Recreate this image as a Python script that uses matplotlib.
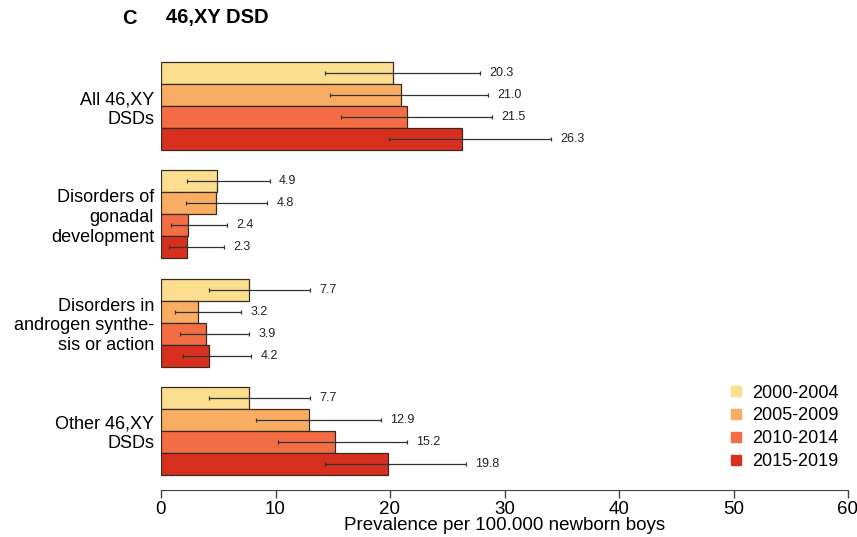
#!/usr/bin/env python3
# 46,XY DSD prevalence by period: horizontal grouped bars with CIs

import matplotlib
matplotlib.use("Agg")
import matplotlib.pyplot as plt
from matplotlib.lines import Line2D

plt.rcParams["font.family"] = ["Liberation Sans", "DejaVu Sans"]

groups = ["All 46,XY\nDSDs", "Disorders of\ngonadal\ndevelopment",
          "Disorders in\nandrogen synthe-\nsis or action", "Other 46,XY\nDSDs"]
periods = ["2000-2004", "2005-2009", "2010-2014", "2015-2019"]
colors = ["#fbdf8e", "#f9ad62", "#f26d43", "#d7301f"]

values = [
    [20.3, 21.0, 21.5, 26.3],
    [4.9, 4.8, 2.4, 2.3],
    [7.7, 3.2, 3.9, 4.2],
    [7.7, 12.9, 15.2, 19.8],
]
ci_low = [
    [14.3, 14.8, 15.7, 19.9],
    [2.3, 2.2, 0.85, 0.7],
    [4.2, 1.2, 1.7, 1.9],
    [4.2, 8.3, 10.2, 14.3],
]
ci_high = [
    [27.9, 28.6, 28.9, 34.1],
    [9.5, 9.3, 5.8, 5.5],
    [13.0, 7.0, 7.7, 7.9],
    [13.0, 19.2, 21.5, 26.6],
]

group_step = 4.92

fig = plt.figure(figsize=(8.57, 5.37), dpi=100)
ax = fig.add_axes([161 / 857, 0.0875, (848 - 161) / 857, 0.8175])

centers = []
for g in range(len(groups)):
    base = g * group_step
    centers.append(base + 2)
    for i in range(len(periods)):
        y = base + i + 0.5
        v = values[g][i]
        ax.barh(y, v, height=1.0, color=colors[i], edgecolor="#3a2a20", linewidth=0.9, zorder=2)
        ax.errorbar(v, y, xerr=[[v - ci_low[g][i]], [ci_high[g][i] - v]], fmt="none",
                    ecolor="#333333", elinewidth=0.9, capsize=1.5, capthick=0.9, zorder=3)
        ax.text(ci_high[g][i] + 0.8, y, f"{v:.1f}", va="center", ha="left", fontsize=9, color="#222222")

ax.set_ylim(19.45, -0.5)
ax.set_xlim(0, 60)
ax.set_yticks(centers)
ax.set_yticklabels(groups, fontsize=13, ha="right", multialignment="right", linespacing=1.2)
ax.tick_params(axis="y", length=0, pad=5)
ax.set_xticks(range(0, 61, 10))
ax.tick_params(axis="x", labelsize=13.5, length=6, width=1, color="#444444", pad=2)
for side in ["left", "right", "top"]:
    ax.spines[side].set_visible(False)
ax.spines["bottom"].set_color("#444444")
ax.set_xlabel("Prevalence per 100.000 newborn boys", fontsize=13.5, labelpad=-1)

handles = [Line2D([], [], marker="s", linestyle="none", markersize=7, color=c, label=p)
           for c, p in zip(colors, periods)]
ax.legend(handles=handles, loc="lower right", bbox_to_anchor=(1.0, 0.025), frameon=False,
          fontsize=13, handlelength=0.8, handletextpad=0.5, labelspacing=0.32, borderpad=0)

fig.text(122 / 857, 1 - 18 / 537, "C", fontsize=14.5, fontweight="bold", va="center")
fig.text(166 / 857, 1 - 18 / 537, "46,XY DSD", fontsize=14.5, fontweight="bold", va="center")

fig.savefig("out.png", dpi=100)
plt.close(fig)
